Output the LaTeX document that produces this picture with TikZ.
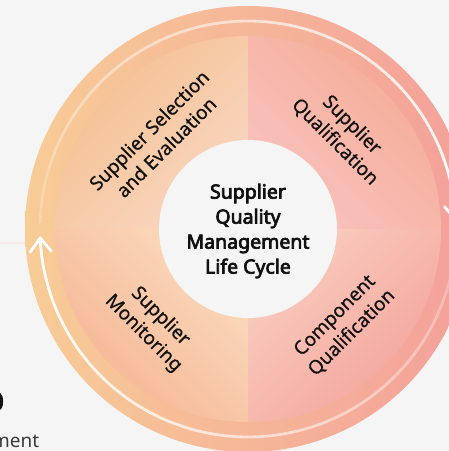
\documentclass[tikz,border=0pt]{standalone}
\usepackage{fontspec}
\setmainfont{Noto Sans}
\newfontfamily\ctrfont{Noto Sans}[FakeBold=3.6]
\newfontfamily\lblfont{Noto Sans}[FakeBold=0.6]
\usetikzlibrary{calc}
\definecolor{bg}{HTML}{F5F5F5}
\definecolor{faintline}{HTML}{F4EAEA}
\definecolor{ringL}{HTML}{F7CC96}
\definecolor{ringR}{HTML}{F4A09A}
\definecolor{tlD}{HTML}{F4BE8D}
\definecolor{tlL}{HTML}{F9D7C2}
\definecolor{trD}{HTML}{F5AB94}
\definecolor{trL}{HTML}{F8C3BF}
\definecolor{blL}{HTML}{FADBBD}
\definecolor{blD}{HTML}{F5B392}
\definecolor{brL}{HTML}{F9CDBF}
\definecolor{brD}{HTML}{F4A29B}
\definecolor{ink}{HTML}{111111}
\definecolor{grayink}{HTML}{3A3A3A}
\tikzset{
  lbl/.style={text=ink, align=center, inner sep=0pt, font=\lblfont\fontsize{19}{24}\selectfont},
  ctr/.style={text=ink, align=center, inner sep=0pt, font=\ctrfont\fontsize{19.5}{25}\selectfont},
  flow/.style={white, line width=2.8pt},
  chev/.style={white, line width=2.8pt, line join=miter, line cap=butt}
}
\begin{document}
\begin{tikzpicture}[x=1pt,y=1pt]
\useasboundingbox (0,0) rectangle (449,451);
\fill[bg] (0,0) rectangle (449,451);
\coordinate (C) at (248,222);
% background fragments
\draw[faintline, line width=1.5pt] (0,208) -- (30,208);
\node[anchor=base east, inner sep=0pt, text=ink, font=\ctrfont\fontsize{24}{28}\selectfont] (frag0) at (4,41) {0};
\node[anchor=base west, inner sep=0pt, text=grayink, font=\fontsize{19}{22}\selectfont] (fragm) at (-8,3) {ment};
% outer disk
\shade[left color=ringL, right color=ringR] (C) circle[radius=223];
% quadrants
\shade[left color=tlD, right color=tlL, shading angle=45]
  (C) -- ++(180:193) arc[start angle=180, end angle=90, radius=193] -- cycle;
\shade[left color=trD, right color=trL, shading angle=-45]
  (C) -- ++(90:193) arc[start angle=90, end angle=0, radius=193] -- cycle;
\shade[left color=blL, right color=blD, shading angle=-45]
  (C) -- ++(270:193) arc[start angle=270, end angle=180, radius=193] -- cycle;
\shade[left color=brL, right color=brD, shading angle=45]
  (C) -- ++(0:193) arc[start angle=0, end angle=-90, radius=193] -- cycle;
% inner circle
\fill[bg] (C) circle[radius=89];
% flow arcs with rising opacity
\foreach \i in {0,...,39}{
  \pgfmathsetmacro{\aU}{178.4 - \i*175.9/40}
  \pgfmathsetmacro{\aL}{-1.6 - \i*175.9/40}
  \pgfmathsetmacro{\op}{0.2 + 0.8*\i/39}
  \draw[flow, opacity=\op] ($(C)+(\aU:208)$) arc[start angle=\aU, delta angle=-4.4, radius=208];
  \draw[flow, opacity=\op] ($(C)+(\aL:208)$) arc[start angle=\aL, delta angle=-4.4, radius=208];
}
\coordinate (tipU) at ($(C)+(2.5:208)$);
\coordinate (tipL) at ($(C)+(-177.5:208)$);
\draw[chev] ($(tipU)+(130.5:18)$) -- (tipU) -- ($(tipU)+(54.5:18)$);
\draw[chev] ($(tipL)+(-49.5:18)$) -- (tipL) -- ($(tipL)+(-125.5:18)$);
% labels
\node[lbl, rotate=45] (selection) at ($(C)+(135:128)$) {Supplier Selection\\and Evaluation};
\node[lbl, rotate=-45] (qualification) at ($(C)+(45:135)$) {Supplier\\Qualification};
\node[lbl, rotate=-45] (monitoring) at ($(C)+(225:136)$) {Supplier\\Monitoring};
\node[lbl, rotate=45] (component) at ($(C)+(315:135)$) {Component\\Qualification};
\node[ctr] (center) at (248,220) {Supplier\\Quality\\Management\\Life Cycle};
\end{tikzpicture}
\end{document}
